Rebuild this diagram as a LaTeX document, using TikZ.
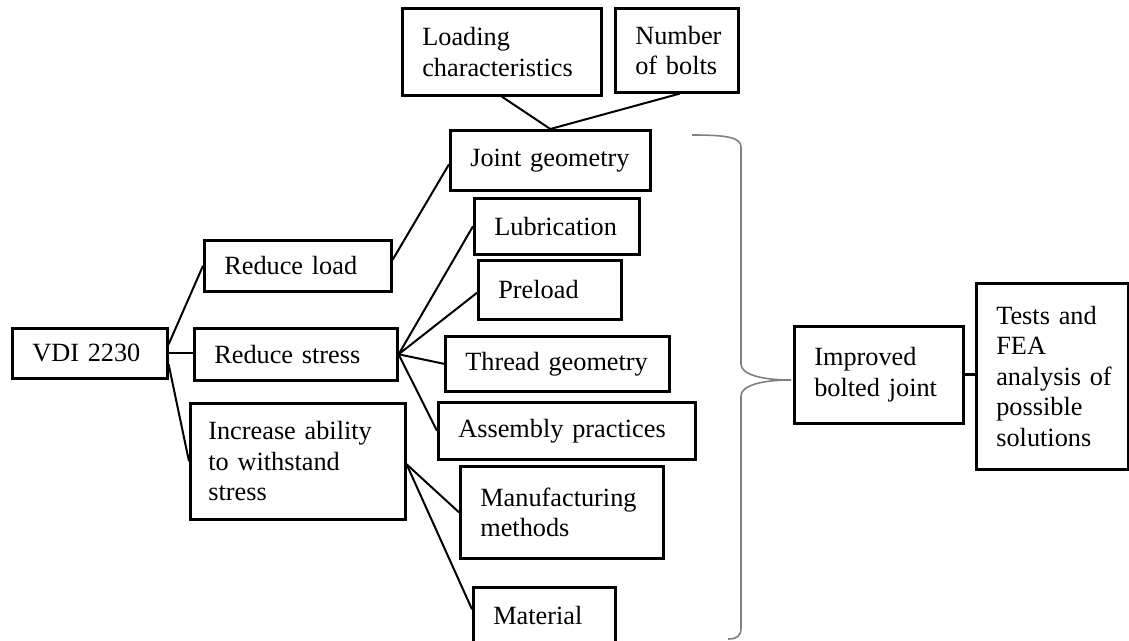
\documentclass[tikz,border=0pt]{standalone}
\usepackage{fontspec}
\setmainfont{Liberation Serif}
\begin{document}
\begin{tikzpicture}[x=1pt,y=-1pt,
  bx/.style={draw, line width=2.6pt, inner xsep=20pt, inner ysep=0pt, align=left,
             anchor=north west, font={\fontsize{26.3}{30.5}\selectfont\hyphenpenalty=10000\exhyphenpenalty=10000}},
  ln/.style={line width=2pt},
  bracestyle/.style={draw=black!50, line width=1.6pt}]
\useasboundingbox (0,0) rectangle (1129,640);
\clip (0,0) rectangle (1129,640);
% nodes
\node[bx, minimum width=155pt, minimum height=50pt, text width=115pt] (vdi) at (11,327) {VDI~2230};
\node[bx, minimum width=187pt, minimum height=51pt, text width=147pt] (rload) at (203,239) {Reduce~load};
\node[bx, minimum width=203pt, minimum height=52pt, text width=163pt] (rstress) at (193,327) {Reduce~stress};
\node[bx, minimum width=215pt, minimum height=116pt, inner xsep=18pt, text width=179pt] (incr) at (189,402) {Increase~ability\\to~withstand\\stress};
\node[bx, minimum width=200pt, minimum height=60pt, inner xsep=20pt, text width=160pt] (joint) at (449,129) {\mbox{Joint geometry}};
\node[bx, minimum width=199pt, minimum height=87pt, text width=159pt] (loading) at (401,7) {Loading\\characteristics};
\node[bx, minimum width=123pt, minimum height=84pt, text width=83pt] (nbolts) at (614,7) {Number\\of~bolts};
\node[bx, minimum width=165pt, minimum height=56pt, text width=125pt] (lub) at (473,197) {Lubrication};
\node[bx, minimum width=143pt, minimum height=59pt, text width=103pt] (pre) at (477,259) {Preload};
\node[bx, minimum width=224pt, minimum height=55pt, text width=184pt] (thread) at (444,335) {\mbox{Thread geometry}};
\node[bx, minimum width=257pt, minimum height=57pt, text width=217pt] (assy) at (437,401) {\mbox{Assembly practices}};
\node[bx, minimum width=203pt, minimum height=92pt, text width=163pt] (manu) at (459,465) {Manufacturing\\methods};
\node[bx, minimum width=142pt, minimum height=56pt, text width=102pt] (mat) at (472,586) {Material};
\node[bx, minimum width=169pt, minimum height=97pt, text width=129pt] (impr) at (793,325) {Improved\\bolted~joint};
\node[bx, minimum width=152pt, minimum height=186pt, text width=112pt] (tests) at (975,282) {Tests~and\\FEA\\\mbox{analysis of}\\possible\\solutions};
% connectors
\draw[ln] ([shift={(0,-9)}]vdi.east) -- (rload.west);
\draw[ln] (vdi.east) -- (vdi.east -| rstress.west);
\draw[ln] ([shift={(0,11)}]vdi.east) -- (incr.west);
\draw[ln] ([shift={(0,-6)}]rload.east) -- ([shift={(0,4)}]joint.west);
\draw[ln] (loading.south) -- (joint.north);
\draw[ln] ([shift={(3,0)}]nbolts.south) -- (joint.north);
\draw[ln] (rstress.east) -- (lub.west);
\draw[ln] (rstress.east) -- ([shift={(0,3)}]pre.west);
\draw[ln] (rstress.east) -- (thread.west);
\draw[ln] (rstress.east) -- (assy.west);
\draw[ln] ([shift={(0,3)}]incr.east) -- (manu.west);
\draw[ln] ([shift={(0,3)}]incr.east) -- ([shift={(0,-6)}]mat.west);
\draw[line width=3pt] (impr.east) -- (impr.east -| tests.west);
% brace
\coordinate (tip) at (791,380);
\draw[bracestyle] (692,135) .. controls (725,135) and (741,137) .. (741,147) -- (741,364)
  .. controls (741,374) and (760,380) .. (tip)
  .. controls (760,380) and (741,386) .. (741,396) -- (741,628)
  .. controls (741,636) and (737,639) .. (728,639);
\end{tikzpicture}
\end{document}
